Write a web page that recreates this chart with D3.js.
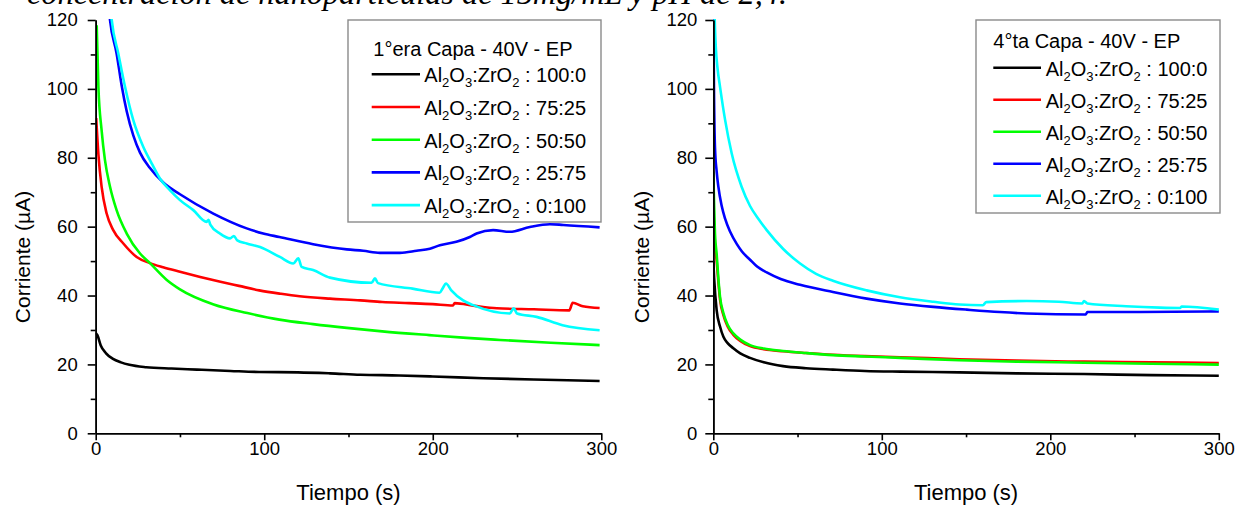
<!DOCTYPE html>
<html>
<head>
<meta charset="utf-8">
<script src="https://cdnjs.cloudflare.com/ajax/libs/d3/7.8.5/d3.min.js"></script>
<style>
body { margin: 0; background: #fff; }
svg text { font-family: "Liberation Sans", Arial, sans-serif; fill: #000; }
</style>
</head>
<body>
<div id="content"></div>
<script>
// categorias y colores
var proporciones = ["100:0", "75:25", "50:50", "25:75", "0:100"];
var colores = ["#000000", "#ff0000", "#00ff00", "#0000ff", "#00ffff"];
var titulosLeyenda = ["1°era Capa - 40V - EP", "4°ta Capa - 40V - EP"];
var yTicks = [0, 20, 40, 60, 80, 100, 120];
var yMinor = [10, 30, 50, 70, 90, 110];
var xTicks = [0, 100, 200, 300];
var xMinor = [50, 150, 250];

// 1era capa: [tiempo (s), corriente (uA)]
var capa1_100_0 = [[0,29.2],[1,28.5],[3,25.5],[6,23.3],[10,21.7],[15,20.6],[20,19.9],[30,19.2],[45,18.8],[60,18.5],[80,18.1],[97,17.8],[120,17.7],[139,17.4],[157,17.0],[180,16.8],[200,16.5],[230,16.0],[260,15.6],[280,15.4],[299,15.2]];
var capa1_75_25 = [[0.3,91.5],[1.6,81],[3.5,71.6],[6.5,63.8],[10.4,59],[16.4,55.1],[24.3,51.2],[32.2,49.4],[40,48.2],[50,46.9],[62,45.4],[74,44],[85,42.8],[97,41.5],[110,40.5],[121,39.8],[139,39.1],[157,38.6],[170,38.1],[186,37.8],[200,37.5],[212,37.1],[213,37.8],[225,37.0],[238,36.3],[260,36.0],[281,35.7],[283,37.9],[289,36.9],[299,36.4]];
var capa1_50_50 = [[0.6,118.5],[1.6,100.6],[3.5,88],[5.5,79.3],[8.5,71.6],[12.4,64.8],[18.4,58],[26.3,52.2],[32.2,49.4],[42,44.6],[50,41.8],[70,37.4],[90,34.9],[109,33],[129,31.7],[149,30.6],[170,29.6],[198,28.5],[220,27.7],[240,27.1],[270,26.3],[299,25.6]];
var capa1_25_75 = [[7,128],[8.5,120],[12.4,110.3],[15.4,101],[18.4,93.5],[22.3,86.5],[26.3,81.5],[32.2,77],[40.1,72.8],[50,69.4],[69.8,63.8],[89.6,59.5],[99.4,58],[109,57],[129,54.9],[149,53.4],[158.7,53],[168.6,52.4],[180.5,52.4],[190.4,53],[198.3,53.6],[204.2,54.6],[214,55.6],[222,57],[226,58],[235.8,59],[245.7,58.5],[257.6,59.9],[269.5,60.7],[277.4,60.5],[299,59.8]];
var capa1_0_100 = [[8,128],[9.5,120],[13.4,110.3],[17.4,100.6],[22.3,90.9],[28.2,83.2],[33.2,78.4],[38.1,74],[44,70.6],[50,67.7],[57.9,64.8],[65.8,61.4],[67,62],[68,60.6],[73.7,58],[79.7,56.6],[82,57.3],[84,56],[89.6,55.1],[97.5,54.1],[109.3,51.2],[117.2,49.3],[120.2,50.8],[122.2,48.3],[129,47.4],[139,45.2],[163.7,43.7],[165.7,45],[167.5,43.6],[188,42],[204,40.8],[206,42.2],[207.8,43.5],[211,41.5],[218,38.6],[224,37.2],[245.7,34.8],[248,36.3],[250,34.8],[261.6,33.8],[277,31.4],[299,29.9]];

// 4ta capa
var capa4_100_0 = [[0,50],[0.5,45],[2,35.7],[4,31],[6,28],[8.5,26.2],[11.9,24.7],[16,23.2],[21.8,21.9],[30,20.6],[41.4,19.5],[55,18.9],[71,18.5],[90,18.1],[111,17.9],[146,17.7],[180,17.4],[220,17.2],[260,16.9],[300,16.7]];
var capa4_75_25 = [[0,66],[0.5,60],[1,55],[2,50],[3,44],[4,38.8],[6,34.3],[8.5,31],[11.9,28.6],[16,26.8],[21.8,25.3],[30,24.4],[41.4,23.8],[55,23.3],[71,22.8],[90,22.4],[111,22.1],[146,21.5],[180,21.1],[220,20.8],[260,20.6],[300,20.4]];
var capa4_50_50 = [[0,76],[0.5,66],[1,58],[2,52],[3,45],[4,39.6],[6,34.9],[8.5,31.5],[11.9,29],[16,27.2],[21.8,25.6],[30,24.6],[41.4,23.9],[55,23.3],[71,22.7],[90,22.3],[111,21.9],[146,21.2],[180,20.8],[220,20.5],[260,20.2],[300,19.95]];
var capa4_25_75 = [[0,125],[0.4,100],[1,83],[2,76],[3,71.6],[5,66],[7,62.3],[10,58.5],[13.9,55],[17,52.8],[21.8,50.4],[26,48.4],[31.7,46.7],[40,44.8],[51.5,43.1],[71,41],[91,39.1],[110.8,37.7],[130.6,36.7],[150.4,35.9],[170,35.2],[186,34.8],[221,34.5],[222,35.2],[253,35.2],[300,35.4]];
var capa4_0_100 = [[0.5,128],[0.8,121],[1.5,112],[2.5,106],[4,100.6],[7,91],[10.9,81.3],[16.8,71.6],[21.8,66],[26.7,62.3],[31.7,59],[41.5,53.5],[51.5,49.3],[61,46.3],[71,44.3],[91,41.5],[110.8,39.5],[130.6,38.2],[146,37.4],[160,37.2],[162,38.1],[186,38.4],[205,38.2],[219,37.7],[220,38.4],[222,37.7],[245,36.9],[265,36.5],[277,36.4],[278,36.8],[300,35.9]];

var W = 1245, H = 506;

var svg = d3.select("#content").append("svg")
    .attr("width", W)
    .attr("height", H);

// texto cortado arriba (pie del parrafo anterior)
svg.append("text")
    .attr("x", 27)
    .attr("y", 4)
    .attr("textLength", 760)
    .attr("lengthAdjust", "spacingAndGlyphs")
    .style("font-family", "'Liberation Serif', 'Times New Roman', serif")
    .style("font-style", "italic")
    .style("font-size", "31px")
    .text("concentración de nanopartículas de 15mg/mL y pH de 2,4.");

var paneles = [
  { id: "p1", x0: 95.7, x1: 601.3, series: [capa1_100_0, capa1_75_25, capa1_50_50, capa1_25_75, capa1_0_100],
    titulo: titulosLeyenda[0], ytX: 30, pad: 10,
    ley: { x: 348, y: 20, w: 253, h: 202, tx0: 373.3, ty: 56, first: 74.3, step: 32.7, lx0: 371.7, lx1: 420, tx: 424.3 } },
  { id: "p2", x0: 713.3, x1: 1218.8, series: [capa4_100_0, capa4_75_25, capa4_50_50, capa4_25_75, capa4_0_100],
    titulo: titulosLeyenda[1], ytX: 649, pad: 8,
    ley: { x: 976, y: 20, w: 244, h: 193, tx0: 993.3, ty: 48.3, first: 67.7, step: 32, lx0: 993.3, lx1: 1041, tx: 1045.7 } }
];

var yTop = 20, yBottom = 433.3;

paneles.forEach(function(p) {
  var x = d3.scaleLinear().domain([0, 300]).range([p.x0, p.x1]);
  var y = d3.scaleLinear().domain([0, 120]).range([yBottom, yTop]);

  svg.append("clipPath").attr("id", "clip-" + p.id)
    .append("rect")
      .attr("x", p.x0).attr("y", yTop - 1)
      .attr("width", p.x1 - p.x0 + 2).attr("height", yBottom - yTop + 1);

  var linea = d3.line()
      .x(function(d) { return x(d[0]); })
      .y(function(d) { return y(d[1]); })
      .curve(d3.curveMonotoneX);

  var g = svg.append("g").attr("clip-path", "url(#clip-" + p.id + ")");
  // dibujar en orden: negro, rojo, verde, azul, cian
  p.series.forEach(function(s, i) {
    g.append("path")
        .datum(s)
        .attr("d", linea)
        .attr("fill", "none")
        .attr("stroke", colores[i])
        .attr("stroke-width", 2.6)
        .attr("stroke-linejoin", "round");
  });

  // ejes
  var ax = svg.append("g").attr("transform", "translate(0," + yBottom + ")");
  ax.call(d3.axisBottom(x).tickValues(xTicks).tickSize(7).tickPadding(2).tickSizeOuter(0));
  var axm = svg.append("g").attr("transform", "translate(0," + yBottom + ")");
  axm.call(d3.axisBottom(x).tickValues(xMinor).tickSize(4).tickFormat("").tickSizeOuter(0));

  var ay = svg.append("g").attr("transform", "translate(" + p.x0 + ",0)");
  ay.call(d3.axisLeft(y).tickValues(yTicks).tickSize(8).tickPadding(p.pad).tickSizeOuter(0));
  var aym = svg.append("g").attr("transform", "translate(" + p.x0 + ",0)");
  aym.call(d3.axisLeft(y).tickValues(yMinor).tickSize(5).tickFormat("").tickSizeOuter(0));

  svg.selectAll(".domain").attr("stroke", "#000").attr("stroke-width", 1.6);
  svg.selectAll(".tick line").attr("stroke", "#000").attr("stroke-width", 1.6);
  svg.selectAll(".tick text").style("font-size", "18.5px").style("font-family", "'Liberation Sans', Arial, sans-serif").attr("fill", "#000");

  // titulos de ejes
  svg.append("text")
      .attr("x", (p.x0 + p.x1) / 2)
      .attr("y", 500)
      .attr("text-anchor", "middle")
      .style("font-size", "22px")
      .text("Tiempo (s)");

  svg.append("text")
      .attr("transform", "translate(" + p.ytX + ",257) rotate(-90)")
      .attr("text-anchor", "middle")
      .style("font-size", "21px")
      .text("Corriente (µA)");

  // leyenda
  var L = p.ley;
  svg.append("rect")
      .attr("x", L.x).attr("y", L.y)
      .attr("width", L.w).attr("height", L.h)
      .attr("fill", "#fff")
      .attr("stroke", "#8a8a8a")
      .attr("stroke-width", 1.4);

  svg.append("text")
      .attr("x", L.tx0).attr("y", L.ty)
      .style("font-size", "20px")
      .text(p.titulo);

  proporciones.forEach(function(r, i) {
    var yy = L.first + i * L.step;
    svg.append("line")
        .attr("x1", L.lx0).attr("x2", L.lx1)
        .attr("y1", yy).attr("y2", yy)
        .attr("stroke", colores[i])
        .attr("stroke-width", 2.6);
    var t = svg.append("text")
        .attr("x", L.tx).attr("y", yy + 8)
        .style("font-size", "20px");
    t.append("tspan").text("Al");
    t.append("tspan").attr("dy", 5).style("font-size", "13px").text("2");
    t.append("tspan").attr("dy", -5).text("O");
    t.append("tspan").attr("dy", 5).style("font-size", "13px").text("3");
    t.append("tspan").attr("dy", -5).text(":ZrO");
    t.append("tspan").attr("dy", 5).style("font-size", "13px").text("2");
    t.append("tspan").attr("dy", -5).text(" : " + r);
  });
});
</script>
</body>
</html>
